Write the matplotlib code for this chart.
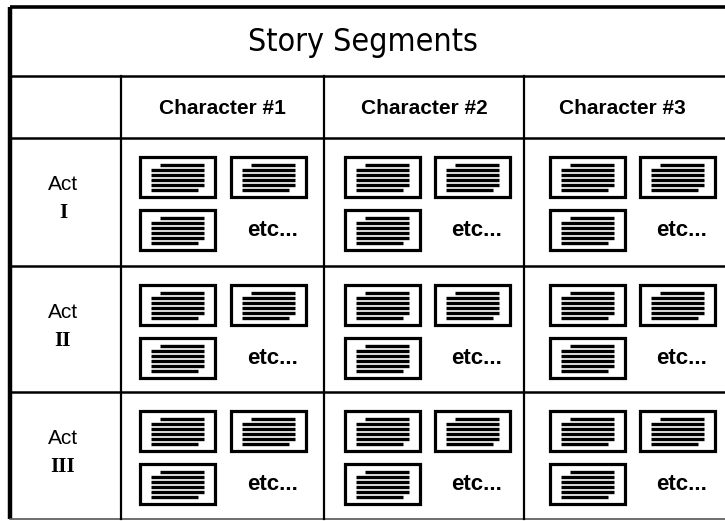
import matplotlib.pyplot as plt
from matplotlib.patches import Rectangle

title = 'Story Segments'
characters = ['Character #1', 'Character #2', 'Character #3']
acts = ['I', 'II', 'III']
etc_text = 'etc...'

# table grid in pixel units (figure is 725x521 px)
col_edges = [10, 121, 324, 524, 730]
row_edges = [7, 76, 138, 266, 392, 519]
# left edge of the two icon columns inside each character cell
icon_x = [(140, 231), (345, 435), (550, 640)]

fig = plt.figure(figsize=(7.25, 5.21), dpi=100)
ax = fig.add_axes([0, 0, 1, 1])
ax.set_xlim(0, 725)
ax.set_ylim(521, 0)
ax.axis('off')

# outer frame
ax.plot([col_edges[0], col_edges[0]], [row_edges[0], row_edges[-1]], color='black', lw=3.2, solid_capstyle='butt')
ax.plot([col_edges[0], 725], [row_edges[0], row_edges[0]], color='black', lw=2.6, solid_capstyle='butt')
ax.plot([col_edges[0], 725], [row_edges[-1], row_edges[-1]], color='#555555', lw=1.2)
# horizontal lines
for y in row_edges[1:-1]:
    ax.plot([col_edges[0], 725], [y, y], color='black', lw=1.8)
# vertical lines below title
for x in col_edges[1:-1]:
    ax.plot([x, x], [row_edges[1], row_edges[-1]], color='black', lw=1.6)

# texts
ax.text(363, (row_edges[0] + row_edges[1]) / 2 + 1, title, ha='center', va='center',
        fontsize=23, family='DejaVu Sans', stretch='condensed')
for i, c in enumerate(characters):
    cx = (col_edges[i + 1] + col_edges[i + 2]) / 2
    if i == 2:
        cx = 622
    ax.text(cx, (row_edges[1] + row_edges[2]) / 2 + 1, c, ha='center', va='center',
            fontsize=15, fontweight='bold', family='Liberation Sans')
for j, a in enumerate(acts):
    top = row_edges[j + 2]
    ax.text(63, top + 47, 'Act', ha='center', va='center', fontsize=15, family='Liberation Sans')
    ax.text(63, top + 75, a, ha='center', va='center', fontsize=15, fontweight='bold',
            family='Liberation Serif')


def draw_doc(x0, y0, w=75, h=40):
    ax.add_patch(Rectangle((x0, y0), w, h, fill=False, ec='black', lw=2.3))
    for k in range(6):
        y = y0 + 8 + k * 4.9
        xs = x0 + 11
        xe = x0 + 64
        if k == 0:
            xs = x0 + 20
        if k == 5:
            xe = x0 + 58
        ax.plot([xs, xe], [y, y], color='black', lw=2.4, solid_capstyle='butt')


for j in range(len(acts)):
    top = row_edges[j + 2]
    for i in range(len(characters)):
        xa, xb = icon_x[i]
        draw_doc(xa, top + 19)
        draw_doc(xb, top + 19)
        draw_doc(xa, top + 72)
        ax.text(xb + 42, top + 92, etc_text, ha='center', va='center', fontsize=16,
                fontweight='bold', family='Liberation Sans')

fig.savefig('out.png', dpi=100)
